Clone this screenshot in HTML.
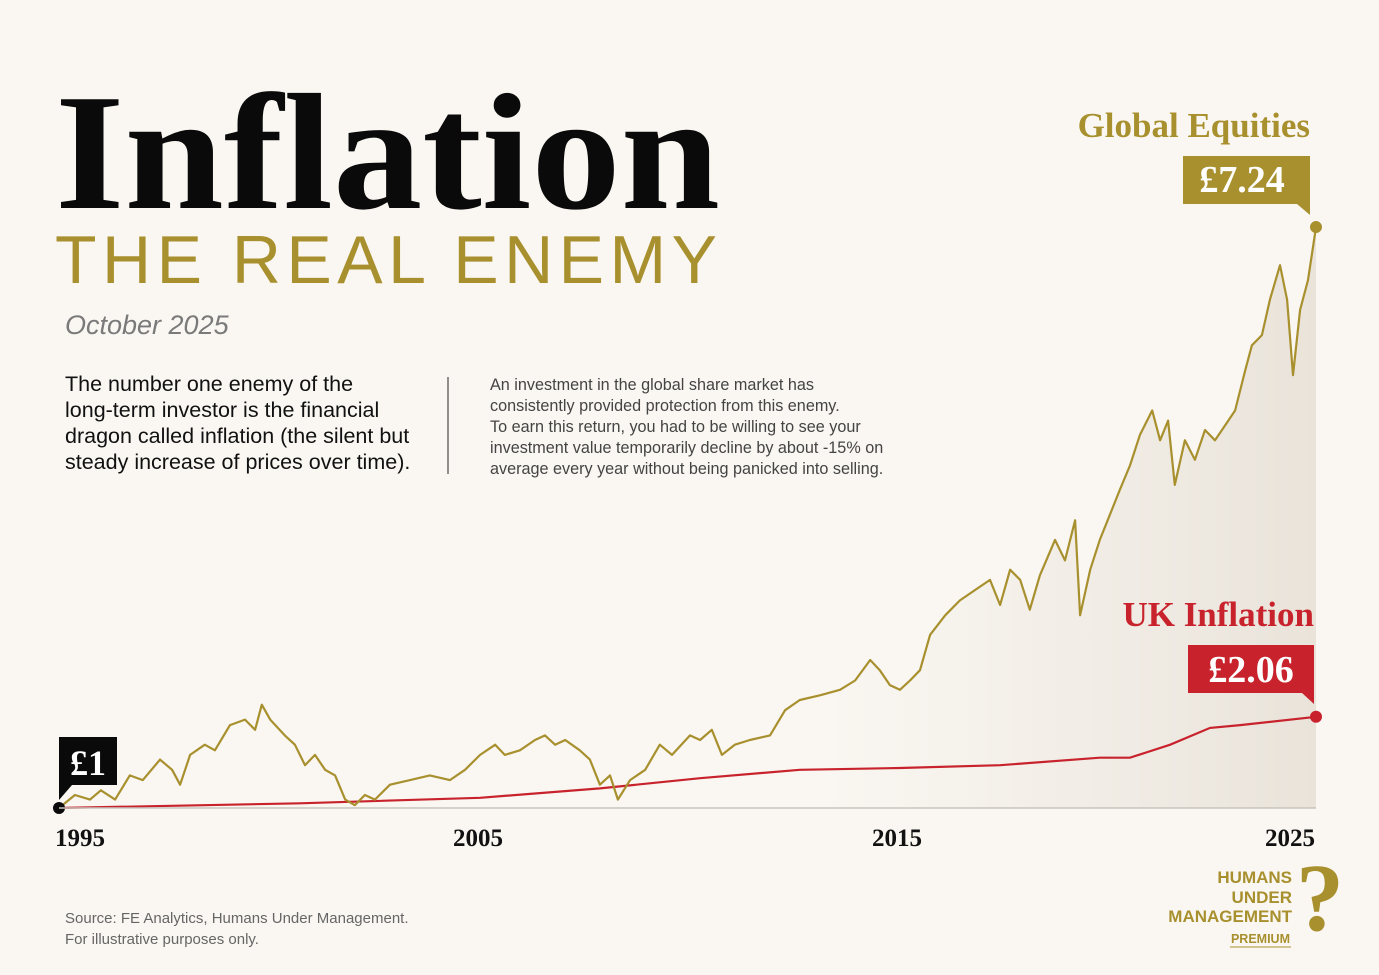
<!DOCTYPE html>
<html><head><meta charset="utf-8"><style>
html,body{margin:0;padding:0;background:#faf7f2;}
svg{display:block;}
.serif{font-family:"Liberation Serif",serif;}
.sans{font-family:"Liberation Sans",sans-serif;}
</style></head><body>
<svg id="chart" width="1379" height="975" viewBox="0 0 1379 975">
<defs>
<linearGradient id="shade" x1="0" x2="1" y1="0" y2="0">
<stop offset="0" stop-color="#ece6de" stop-opacity="0"/>
<stop offset="0.6" stop-color="#ece6de" stop-opacity="0"/>
<stop offset="1" stop-color="#e9e3da" stop-opacity="1"/>
</linearGradient>
</defs>
<rect width="1379" height="975" fill="#faf7f2"/>
<text x="55" y="208" class="serif" font-weight="bold" font-size="166" textLength="665" lengthAdjust="spacingAndGlyphs" fill="#0a0a0a">Inflation</text>
<text x="55" y="283" class="sans" font-size="68" textLength="662" lengthAdjust="spacing" fill="#a8902e">THE REAL ENEMY</text>
<text x="65" y="334" class="sans" font-style="italic" font-size="27" fill="#7a7a7a">October 2025</text>
<g class="sans" font-size="21.5" fill="#111">
<text x="65" y="391">The number one enemy of the</text>
<text x="65" y="417">long-term investor is the financial</text>
<text x="65" y="443">dragon called inflation (the silent but</text>
<text x="65" y="469">steady increase of prices over time).</text>
</g>
<line x1="448" y1="377" x2="448" y2="474" stroke="#555" stroke-width="1.3"/>
<g class="sans" font-size="16.2" fill="#444">
<text x="490" y="390">An investment in the global share market has</text>
<text x="490" y="411">consistently provided protection from this enemy.</text>
<text x="490" y="432">To earn this return, you had to be willing to see your</text>
<text x="490" y="453">investment value temporarily decline by about -15% on</text>
<text x="490" y="474">average every year without being panicked into selling.</text>
</g>
<g id="plot"></g>
<line x1="59" y1="808" x2="1316" y2="808" stroke="#c8c4bd" stroke-width="1.5"/>
<g class="serif" font-weight="bold" font-size="25" fill="#111">
<text x="80" y="846" text-anchor="middle">1995</text>
<text x="478" y="846" text-anchor="middle">2005</text>
<text x="897" y="846" text-anchor="middle">2015</text>
<text x="1290" y="846" text-anchor="middle">2025</text>
</g>
<text x="1310" y="137" text-anchor="end" class="serif" font-weight="bold" font-size="35" fill="#a8902e">Global Equities</text>
<g>
<path d="M1183,156 H1310 V215 L1297,204 H1183 Z" fill="#a8902e"/>
<text x="1242" y="192" text-anchor="middle" class="serif" font-weight="bold" font-size="38" fill="#fff">£7.24</text>
</g>
<text x="1314" y="626" text-anchor="end" class="serif" font-weight="bold" font-size="35" fill="#c8232c">UK Inflation</text>
<g>
<path d="M1188,645 H1314 V704 L1302,693 H1188 Z" fill="#c8232c"/>
<text x="1251" y="682" text-anchor="middle" class="serif" font-weight="bold" font-size="38" fill="#fff">£2.06</text>
</g>
<g>
<path d="M59,737 H117 V785 H72 L59,800 Z" fill="#0a0a0a"/>
<text x="88" y="775" text-anchor="middle" class="serif" font-weight="bold" font-size="36" fill="#fff">£1</text>
</g>
<g class="sans" font-size="15" fill="#666">
<text x="65" y="923">Source: FE Analytics, Humans Under Management.</text>
<text x="65" y="944">For illustrative purposes only.</text>
</g>
<g>
<g class="sans" font-weight="bold" font-size="17" fill="#a8902e" text-anchor="end">
<text x="1292" y="883">HUMANS</text>
<text x="1292" y="903">UNDER</text>
<text x="1292" y="922">MANAGEMENT</text>
<text x="1290" y="943" font-size="12.5">PREMIUM</text>
</g>
<line x1="1230" y1="947" x2="1291" y2="947" stroke="#a8902e" stroke-width="1"/>
<text x="1320" y="930" text-anchor="middle" class="serif" font-weight="bold" font-size="96" fill="#a8902e">?</text>
</g>
</svg>
<script>
const eqYears=[1995.00,1995.38,1995.74,1996.00,1996.34,1996.69,1997.00,1997.41,1997.70,1997.89,1998.13,1998.48,1998.72,1999.08,1999.44,1999.68,1999.84,2000.04,2000.39,2000.63,2000.87,2001.11,2001.35,2001.59,2001.83,2002.06,2002.30,2002.54,2002.90,2003.38,2003.85,2004.33,2004.69,2005.05,2005.41,2005.64,2006.00,2006.36,2006.60,2006.84,2007.08,2007.43,2007.67,2007.91,2008.15,2008.34,2008.63,2008.99,2009.34,2009.63,2010.06,2010.30,2010.58,2010.82,2011.13,2011.49,2011.97,2012.33,2012.68,2013.16,2013.64,2014.00,2014.36,2014.59,2014.83,2015.07,2015.31,2015.55,2015.79,2016.15,2016.50,2016.86,2017.22,2017.46,2017.70,2017.94,2018.17,2018.41,2018.77,2019.01,2019.25,2019.37,2019.61,2019.84,2020.08,2020.32,2020.56,2020.80,2021.09,2021.28,2021.47,2021.63,2021.87,2022.11,2022.35,2022.59,2022.83,2023.07,2023.31,2023.47,2023.71,2023.90,2024.14,2024.31,2024.45,2024.62,2024.81,2025.00];
const eqValues=[1.00,1.14,1.09,1.19,1.09,1.35,1.30,1.52,1.41,1.25,1.57,1.68,1.62,1.89,1.95,1.84,2.11,1.95,1.78,1.68,1.46,1.57,1.41,1.35,1.09,1.03,1.14,1.09,1.25,1.30,1.35,1.30,1.41,1.57,1.68,1.57,1.62,1.73,1.78,1.68,1.73,1.62,1.52,1.25,1.35,1.09,1.30,1.41,1.68,1.57,1.78,1.73,1.84,1.57,1.68,1.73,1.78,2.05,2.16,2.21,2.27,2.37,2.59,2.48,2.32,2.27,2.37,2.48,2.86,3.07,3.23,3.34,3.45,3.18,3.56,3.45,3.13,3.50,3.88,3.66,4.09,3.07,3.56,3.88,4.15,4.42,4.68,5.01,5.27,4.95,5.16,4.47,4.95,4.74,5.06,4.95,5.11,5.27,5.70,5.97,6.08,6.46,6.83,6.46,5.65,6.35,6.67,7.24];
const infYears=[1995.00,2000.75,2005.05,2007.91,2010.30,2012.68,2015.07,2017.46,2019.84,2020.56,2021.52,2022.47,2023.19,2025.00];
const infValues=[1.00,1.05,1.11,1.21,1.32,1.41,1.43,1.46,1.54,1.54,1.68,1.86,1.89,1.98];
const X0=59,PX_PER_YEAR=41.9,Y0=808,PX_PER_UNIT=93.1;
function xs(t){return X0+(t-1995)*PX_PER_YEAR;}
function ys(v){return Y0-(v-1)*PX_PER_UNIT;}
const NS="http://www.w3.org/2000/svg";
const plot=document.getElementById('plot');
function pts(yr,vals){return yr.map((t,i)=>xs(t).toFixed(1)+','+ys(vals[i]).toFixed(1));}
const ep=pts(eqYears,eqValues);
const area=document.createElementNS(NS,'path');
area.setAttribute('d','M'+xs(eqYears[0])+','+Y0+' L'+ep.join(' L')+' L'+xs(eqYears[eqYears.length-1])+','+Y0+' Z');
area.setAttribute('fill','url(#shade)');


plot.appendChild(area);
const il=document.createElementNS(NS,'polyline');
il.setAttribute('points',pts(infYears,infValues).join(' '));
il.setAttribute('fill','none');il.setAttribute('stroke','#c8232c');il.setAttribute('stroke-width','2.2');


plot.appendChild(il);
const el=document.createElementNS(NS,'polyline');
el.setAttribute('points',ep.join(' '));
el.setAttribute('fill','none');el.setAttribute('stroke','#a8902e');el.setAttribute('stroke-width','2.2');el.setAttribute('stroke-linejoin','round');


plot.appendChild(el);
const d1=document.createElementNS(NS,'circle');
d1.setAttribute('cx',xs(eqYears[eqYears.length-1]));d1.setAttribute('cy',ys(eqValues[eqValues.length-1]));d1.setAttribute('r','6');d1.setAttribute('fill','#a8902e');


plot.appendChild(d1);
const d2=document.createElementNS(NS,'circle');
d2.setAttribute('cx',xs(infYears[infYears.length-1]));d2.setAttribute('cy',ys(infValues[infValues.length-1]));d2.setAttribute('r','6');d2.setAttribute('fill','#c8232c');


plot.appendChild(d2);
const d0=document.createElementNS(NS,'circle');
d0.setAttribute('cx',xs(1995));d0.setAttribute('cy',ys(1));d0.setAttribute('r','6');d0.setAttribute('fill','#0a0a0a');


plot.appendChild(d0);
</script>
</body></html>
